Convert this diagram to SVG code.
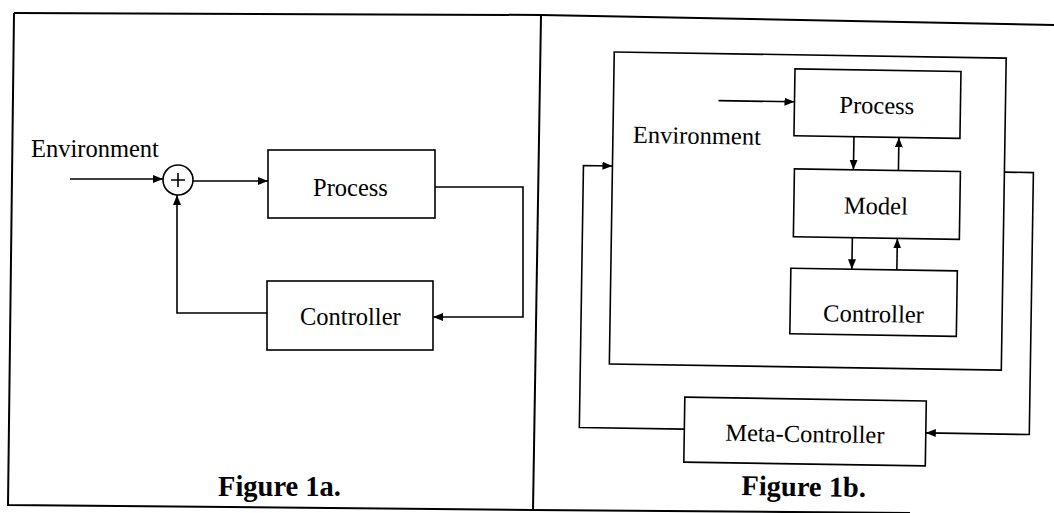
<svg xmlns="http://www.w3.org/2000/svg" width="1054" height="513" viewBox="0 0 1054 513" font-family="Liberation Serif, Tinos, Times New Roman, serif">
<defs>
<marker id="ah" markerUnits="userSpaceOnUse" markerWidth="10" markerHeight="10" viewBox="0 0 10 10" refX="10" refY="5" orient="auto">
<path d="M0,1 L10,5 L0,9 Z" fill="#000"/>
</marker>
</defs>
<style>
.frame{fill:none;stroke:#000;stroke-width:2}
.box{fill:#fff;stroke:#000;stroke-width:1.6}
.wire{fill:none;stroke:#000;stroke-width:1.6}
.arr{fill:none;stroke:#000;stroke-width:1.6}
text,tspan{font-family:'Liberation Serif','Tinos','Times New Roman',serif;fill:#000}
</style>
<rect width="1054" height="513" fill="#fff"/>
<g id="frames">
<path class="frame" d="M14,13 L541,15 L1054,25"/>
<path class="frame" d="M14,13 L8,505 L533,510 L910,513"/>
<path class="frame" d="M541,15 L533,511"/>
</g>
<g id="fig1a">
<g id="connectors-a">
<path class="arr" marker-end="url(#ah)" d="M70,179 L163,179"/>
<path class="arr" marker-end="url(#ah)" d="M193,181 L268,181"/>
<path class="arr" marker-end="url(#ah)" d="M435,187 L523,187 L523,317 L433,317"/>
<path class="arr" marker-end="url(#ah)" d="M267,313 L177,313 L177,195"/>
</g>
<g id="sum">
<circle cx="178" cy="180" r="15" class="box"/>
<path class="wire" d="M171,180 L185,180 M178,173 L178,187" stroke-width="1.3"/>
</g>
<g id="process-a">
<rect class="box" x="268" y="150" width="167" height="68"/>
<text x="313" y="196" font-size="24.5" font-family="Liberation Serif"><tspan font-family="Liberation Serif">Process</tspan></text>
</g>
<g id="controller-a">
<rect class="box" x="267" y="281" width="166" height="69"/>
<text x="300" y="325" font-size="24.5" font-family="Liberation Serif"><tspan font-family="Liberation Serif">Controller</tspan></text>
</g>
<g id="env-a">
<text x="31" y="157" font-size="24.5" font-family="Liberation Serif"><tspan font-family="Liberation Serif">Environment</tspan></text>
</g>
<text x="218" y="496" font-size="28.5" font-weight="bold" font-family="Liberation Serif"><tspan font-family="Liberation Serif">Figure 1a.</tspan></text>
</g>
<g id="fig1b" transform="rotate(0.9 805 260)">
<g id="outer-box">
<rect class="box" x="611" y="55" width="392" height="312"/>
</g>
<g id="connectors-b">
<path class="arr" marker-end="url(#ah)" d="M716,102 L792,102"/>
<path class="arr" marker-end="url(#ah)" d="M852,136 L852,169"/>
<path class="arr" marker-end="url(#ah)" d="M897,169 L897,136"/>
<path class="arr" marker-end="url(#ah)" d="M852,237 L852,268.5"/>
<path class="arr" marker-end="url(#ah)" d="M897,268.5 L897,237"/>
<path class="arr" marker-end="url(#ah)" d="M1003,169 L1032,169 L1032,431 L928.5,431"/>
<path class="arr" marker-end="url(#ah)" d="M687,431 L582,431 L582,169 L611,169"/>
</g>
<g id="process-b">
<rect class="box" x="792" y="69" width="166" height="67"/>
<text x="837" y="112.5" font-size="24.5" font-family="Liberation Serif"><tspan font-family="Liberation Serif">Process</tspan></text>
</g>
<g id="model-b">
<rect class="box" x="793" y="169" width="166" height="68"/>
<text x="843" y="213" font-size="24.5" font-family="Liberation Serif"><tspan font-family="Liberation Serif">Model</tspan></text>
</g>
<g id="controller-b">
<rect class="box" x="791" y="268.5" width="166.5" height="65.5"/>
<text x="824" y="321" font-size="24.5" font-family="Liberation Serif"><tspan font-family="Liberation Serif">Controller</tspan></text>
</g>
<g id="meta-controller">
<rect class="box" x="687" y="399" width="241.5" height="65"/>
<text x="728" y="442" font-size="24.5" font-family="Liberation Serif"><tspan font-family="Liberation Serif">Meta-Controller</tspan></text>
</g>
<g id="env-b">
<text x="631" y="145.5" font-size="24.5" font-family="Liberation Serif"><tspan font-family="Liberation Serif">Environment</tspan></text>
</g>
<text x="745" y="496" font-size="28.5" font-weight="bold" font-family="Liberation Serif"><tspan font-family="Liberation Serif">Figure 1b.</tspan></text>
</g>
</svg>
